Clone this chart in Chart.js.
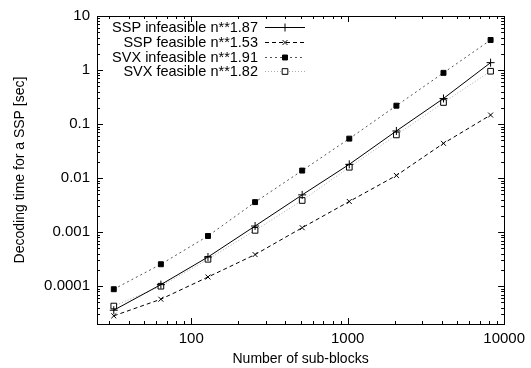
<!DOCTYPE html>
<html>
<head>
<meta charset="utf-8">
<script src="https://cdn.jsdelivr.net/npm/chart.js@4/dist/chart.umd.min.js"></script>
<style>
    html, body { margin: 0; padding: 0; background: #fff; }
    #wrap { width: 531px; height: 368px; }
</style>
</head>
<body>
<div id="wrap"><canvas id="chart" width="531" height="368"></canvas></div>
<script>
// number of sub-blocks (x) and decoding times in seconds (y)
const subBlocks = [32, 64, 128, 256, 512, 1024, 2048, 4096, 8192];
const sspInfeasible = [0.000036, 0.000107, 0.000347, 0.0013, 0.0049, 0.018, 0.0746, 0.298, 1.37];
const sspFeasible = [0.0000283, 0.0000575, 0.000148, 0.000385, 0.00121, 0.0037, 0.0112, 0.044, 0.147];
const svxInfeasible = [0.000088, 0.000255, 0.00085, 0.0036, 0.0138, 0.0538, 0.219, 0.887, 3.6];
const svxFeasible = [0.000043, 0.0001, 0.000315, 0.00108, 0.00386, 0.0159, 0.063, 0.251, 0.95];

const seriesLabels = ['SSP infeasible n**1.87', 'SSP feasible n**1.53', 'SVX infeasible n**1.91', 'SVX feasible n**1.82'];
const xTickLabels = [100, 1000, 10000];
const yTickLabels = [0.0001, 0.001, 0.01, 0.1, 1, 10];

const FONT = '"Liberation Sans", Arial, Helvetica, sans-serif';

function toPoints(values) {
    return subBlocks.map((x, i) => ({ x: x, y: values[i] }));
}

// minor/major tick marks pointing inward on all four sides (gnuplot style)
function logTickValues(min, max) {
    const out = [];
    for (let e = Math.floor(Math.log10(min)); e <= Math.ceil(Math.log10(max)); e++) {
        for (let m = 1; m < 10; m++) {
            const v = m * Math.pow(10, e);
            if (v >= min * 0.999 && v <= max * 1.001) out.push({ v: v, major: m === 1 });
        }
    }
    return out;
}

const framePlugin = {
    id: 'frame',
    afterDatasetsDraw(chart) {
        const ctx = chart.ctx;
        const a = chart.chartArea;
        const xs = chart.scales.x, ys = chart.scales.y;
        ctx.save();
        ctx.strokeStyle = '#000';
        ctx.lineWidth = 1;
        ctx.strokeRect(Math.round(a.left) + 0.5, Math.round(a.top) + 0.5,
            Math.round(a.right - a.left), Math.round(a.bottom - a.top));
        ctx.beginPath();
        logTickValues(xs.min, xs.max).forEach(t => {
            const px = Math.round(xs.getPixelForValue(t.v)) + 0.5;
            const len = t.major ? 6 : 3;
            ctx.moveTo(px, a.bottom); ctx.lineTo(px, a.bottom - len);
            ctx.moveTo(px, a.top); ctx.lineTo(px, a.top + len);
        });
        logTickValues(ys.min, ys.max).forEach(t => {
            const py = Math.round(ys.getPixelForValue(t.v)) + 0.5;
            const len = t.major ? 6 : 3;
            ctx.moveTo(a.left, py); ctx.lineTo(a.left + len, py);
            ctx.moveTo(a.right, py); ctx.lineTo(a.right - len, py);
        });
        ctx.stroke();

        // key: text right aligned, line sample with marker to the right
        ctx.font = '14.5px ' + FONT;
        ctx.textAlign = 'right';
        ctx.textBaseline = 'middle';
        chart.data.datasets.forEach((ds, i) => {
            const y = Math.round(27 + i * 14.8) + 0.5;
            ctx.fillStyle = '#000';
            ctx.fillText(ds.label, 258, y);
            ctx.save();
            ctx.strokeStyle = ds.borderColor;
            ctx.lineWidth = ds.borderWidth;
            ctx.setLineDash(ds.borderDash || []);
            ctx.beginPath();
            ctx.moveTo(265, y);
            ctx.lineTo(305, y);
            ctx.stroke();
            ctx.setLineDash([]);
            ctx.fillStyle = ds.pointBackgroundColor;
            ctx.strokeStyle = ds.pointBorderColor;
            Chart.helpers.drawPoint(ctx, {
                pointStyle: ds.pointStyle,
                radius: ds.pointRadius,
                borderWidth: 1
            }, 285, y);
            ctx.restore();
        });
        ctx.restore();
    }
};

new Chart(document.getElementById('chart'), {
    type: 'line',
    data: {
        datasets: [
            {
                label: seriesLabels[0],
                data: toPoints(sspInfeasible),
                borderColor: '#000',
                borderWidth: 1,
                pointStyle: 'cross',
                pointRadius: 4,
                pointBorderColor: '#000',
                pointBackgroundColor: '#000',
                pointBorderWidth: 1
            },
            {
                label: seriesLabels[1],
                data: toPoints(sspFeasible),
                borderColor: '#000',
                borderWidth: 1,
                borderDash: [4, 3],
                pointStyle: 'crossRot',
                pointRadius: 3.5,
                pointBorderColor: '#000',
                pointBackgroundColor: '#000',
                pointBorderWidth: 1
            },
            {
                label: seriesLabels[2],
                data: toPoints(svxInfeasible),
                borderColor: '#555',
                borderWidth: 1,
                borderDash: [2, 3],
                pointStyle: 'rect',
                pointRadius: 3.5,
                pointBorderColor: '#000',
                pointBackgroundColor: '#000',
                pointBorderWidth: 1
            },
            {
                label: seriesLabels[3],
                data: toPoints(svxFeasible),
                borderColor: '#aaa',
                borderWidth: 1,
                borderDash: [1, 2],
                pointStyle: 'rect',
                pointRadius: 4,
                pointBorderColor: '#000',
                pointBackgroundColor: '#fff',
                pointBorderWidth: 1
            }
        ]
    },
    options: {
        responsive: false,
        animation: false,
        devicePixelRatio: 1,
        layout: { padding: { left: 0, top: 13, right: 23, bottom: 0 } },
        plugins: { legend: { display: false }, tooltip: { enabled: false } },
        scales: {
            x: {
                type: 'logarithmic',
                min: 25,
                max: 10000,
                afterBuildTicks: s => { s.ticks = xTickLabels.map(v => ({ value: v })); },
                afterFit: s => { s.height = 44; },
                grid: { display: false, drawTicks: false },
                border: { display: false },
                ticks: {
                    autoSkip: false,
                    maxRotation: 0,
                    padding: 6,
                    color: '#000',
                    font: { family: FONT, size: 15 },
                    callback: v => String(v)
                },
                title: {
                    display: true,
                    text: 'Number of sub-blocks',
                    color: '#000',
                    font: { family: FONT, size: 14 },
                    padding: { top: 0, bottom: 0 }
                }
            },
            y: {
                type: 'logarithmic',
                min: 0.00002,
                max: 10,
                afterBuildTicks: s => { s.ticks = yTickLabels.map(v => ({ value: v })); },
                afterFit: s => { s.width = 97; },
                grid: { display: false, drawTicks: false },
                border: { display: false },
                ticks: {
                    autoSkip: false,
                    padding: 7,
                    color: '#000',
                    font: { family: FONT, size: 15 },
                    callback: v => String(v)
                },
                title: {
                    display: true,
                    text: 'Decoding time for a SSP [sec]',
                    color: '#000',
                    font: { family: FONT, size: 14 },
                    padding: { top: 12, bottom: 0 }
                }
            }
        }
    },
    plugins: [framePlugin]
});
</script>
</body>
</html>
